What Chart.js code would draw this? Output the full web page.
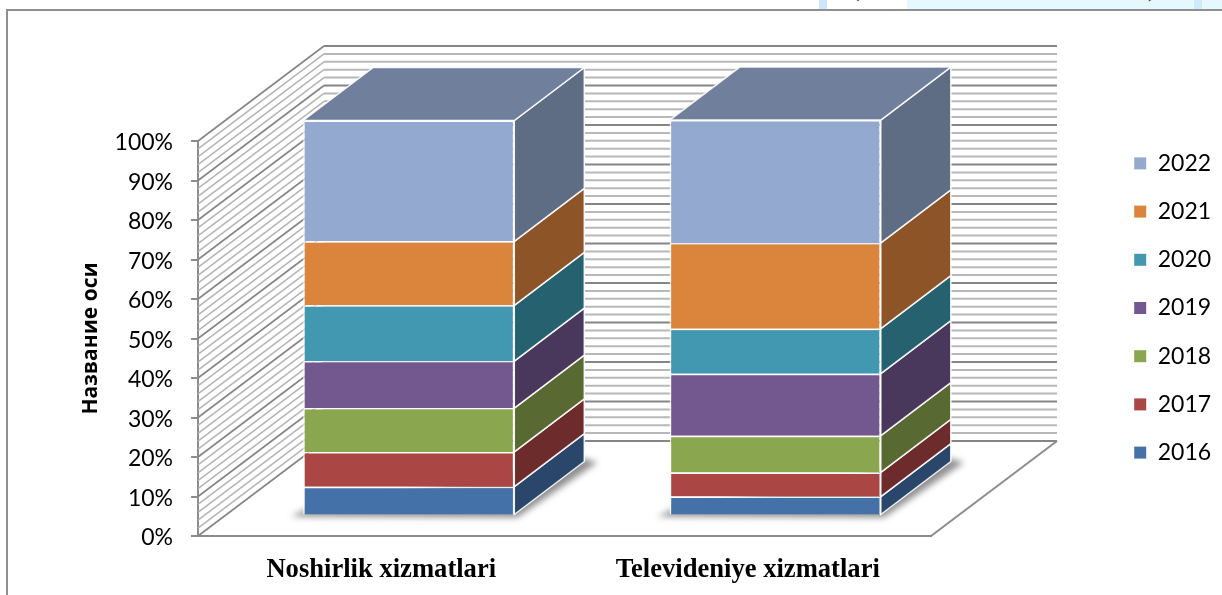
<!DOCTYPE html>
<html>
<head>
<meta charset="utf-8">
<script src="https://cdn.jsdelivr.net/npm/chart.js@4"></script>
<style>
  html, body { margin: 0; padding: 0; background: #fff; overflow: hidden; }
  #page { position: relative; width: 1222px; height: 595px; overflow: hidden; }
  #frame { position: absolute; left: 6px; top: 9px; right: -10px; bottom: -10px; border: 2px solid #8f8f8f; }
  .strip { position: absolute; top: 0; height: 9px; }
  .cut { position: absolute; top: -21px; font: 20px "Liberation Serif"; color: #222; }
  canvas { position: absolute; left: 0; top: 0; }
</style>
</head>
<body>
<div id="page">
  <div class="strip" style="left:819px;width:8px;background:#cde6fa"></div>
  <div class="strip" style="left:907px;width:315px;background:#e5f8fe"></div>
  <div class="strip" style="left:1194px;width:8px;background:#cfeafb"></div>
  <span class="cut" style="left:853px">(</span>
  <span class="cut" style="left:1148px">)</span>
  <div id="frame"></div>
  <canvas id="chart" width="1222" height="595"></canvas>
</div>
<script>
const categories = ["Noshirlik xizmatlari", "Televideniye xizmatlari"];
const years = ["2016", "2017", "2018", "2019", "2020", "2021", "2022"];

// share of each year (bottom to top)
const values2016 = [7.3, 4.8];
const values2017 = [8.8, 6.1];
const values2018 = [11.1, 9.3];
const values2019 = [11.9, 15.7];
const values2020 = [14.1, 11.4];
const values2021 = [16.2, 21.7];
const values2022 = [30.6, 31.1];
const seriesValues = [values2016, values2017, values2018, values2019, values2020, values2021, values2022];

const frontColors = ["#4472a8", "#aa4644", "#8aa64e", "#73578f", "#4198b0", "#db843c", "#94a9d0"];
const sideColors = ["#2a476b", "#6d2c2b", "#586a31", "#49385c", "#26616f", "#8c5427", "#5e6c84"];
const topColor = "#707f9b";

// 3d look: how far the bars sit from the front edge and how deep they are
const floorShift = { x: 27.5, y: -20.5 };
const barDepth = { x: 70, y: -53 };
const wallDepth = { x: 126, y: -95 };
const minorStep = 2;

const wallPlugin = {
  id: "wall",
  beforeDatasetsDraw(chart) {
    const { ctx, chartArea, scales } = chart;
    const y = scales.y;

    function line(x1, y1, x2, y2, color, width) {
      ctx.strokeStyle = color;
      ctx.lineWidth = width;
      ctx.beginPath();
      ctx.moveTo(x1, y1);
      ctx.lineTo(x2, y2);
      ctx.stroke();
    }

    ctx.save();
    // side wall and back wall lines, minor ones first
    for (let v = 0; v <= 100; v += minorStep) {
      if (v % 10 === 0) continue;
      const py = y.getPixelForValue(v);
      line(chartArea.left, py, chartArea.left + wallDepth.x, py + wallDepth.y, "#b4b4b4", 1.5);
      line(chartArea.left + wallDepth.x, py + wallDepth.y, chartArea.right + wallDepth.x, py + wallDepth.y, "#b8b8b8", 2);
    }
    for (let v = 0; v <= 100; v += 10) {
      const py = y.getPixelForValue(v);
      line(chartArea.left, py, chartArea.left + wallDepth.x, py + wallDepth.y, "#858585", 1.6);
      line(chartArea.left + wallDepth.x, py + wallDepth.y, chartArea.right + wallDepth.x, py + wallDepth.y, "#858585", 2);
    }
    // floor right edge
    line(chartArea.right, chartArea.bottom, chartArea.right + wallDepth.x, chartArea.bottom + wallDepth.y, "#8c8c8c", 2);
    ctx.restore();

    // bars get moved back onto the floor, restored in afterDatasetsDraw
    ctx.save();
    ctx.translate(floorShift.x, floorShift.y);

    // soft shadow under each stack
    const first = chart.getDatasetMeta(0).data;
    first.forEach((bar) => {
      const x0 = bar.x - bar.width / 2;
      const x1 = bar.x + bar.width / 2;
      ctx.save();
      ctx.filter = "blur(3px)";
      ctx.fillStyle = "rgba(70,70,70,0.6)";
      ctx.beginPath();
      ctx.moveTo(x0 - 12, bar.base + 2);
      ctx.lineTo(x1 + 3, bar.base + 3);
      ctx.lineTo(x1 + barDepth.x + 13, bar.base + barDepth.y + 1);
      ctx.lineTo(x1 + barDepth.x, bar.base + barDepth.y - 3);
      ctx.lineTo(x0, bar.base - 4);
      ctx.closePath();
      ctx.fill();
      ctx.restore();
    });

    // side faces, then the lid
    seriesValues.forEach((vals, i) => {
      chart.getDatasetMeta(i).data.forEach((bar) => {
        const xr = bar.x + bar.width / 2;
        ctx.fillStyle = sideColors[i];
        ctx.strokeStyle = "rgba(255,255,255,0.9)";
        ctx.lineWidth = 1.5;
        ctx.beginPath();
        ctx.moveTo(xr, bar.base);
        ctx.lineTo(xr + barDepth.x, bar.base + barDepth.y);
        ctx.lineTo(xr + barDepth.x, bar.y + barDepth.y);
        ctx.lineTo(xr, bar.y);
        ctx.closePath();
        ctx.fill();
        ctx.stroke();
      });
    });
    chart.getDatasetMeta(seriesValues.length - 1).data.forEach((bar) => {
      const xl = bar.x - bar.width / 2;
      const xr = bar.x + bar.width / 2;
      ctx.fillStyle = topColor;
      ctx.strokeStyle = "rgba(255,255,255,0.9)";
      ctx.lineWidth = 1.5;
      ctx.beginPath();
      ctx.moveTo(xl, bar.y);
      ctx.lineTo(xl + barDepth.x, bar.y + barDepth.y);
      ctx.lineTo(xr + barDepth.x, bar.y + barDepth.y);
      ctx.lineTo(xr, bar.y);
      ctx.closePath();
      ctx.fill();
      ctx.stroke();
    });
  },
  afterDatasetsDraw(chart) {
    chart.ctx.restore();
  },
  afterLayout(chart) {
    // the legend sits far from the plot, push it over and up
    const legend = chart.legend;
    const w = legend.right - legend.left;
    const h = legend.bottom - legend.top;
    legend.left = 1109;
    legend.right = legend.left + w;
    legend.top -= 60;
    legend.bottom = legend.top + h;
  },
};

const chart = new Chart(document.getElementById("chart"), {
  type: "bar",
  data: {
    labels: categories,
    datasets: years.map((year, i) => ({
      label: year,
      data: seriesValues[i],
      backgroundColor: frontColors[i],
      borderColor: "rgba(255,255,255,0.85)",
      borderWidth: 1.5,
      categoryPercentage: 1,
      barPercentage: 0.576,
      clip: false,
    })),
  },
  options: {
    responsive: false,
    animation: false,
    layout: { padding: { left: 78, top: 141, right: 163, bottom: 0 } },
    plugins: {
      tooltip: { enabled: false },
      legend: {
        position: "right",
        reverse: true,
        labels: {
          boxWidth: 12,
          boxHeight: 12,
          padding: 25.2,
          color: "#000",
          font: { family: "Lato", size: 23 },
          // no white edge round the swatches
          generateLabels: (c) => Chart.defaults.plugins.legend.labels.generateLabels(c).map((l) => ({ ...l, lineWidth: 0 })),
        },
      },
    },
    scales: {
      x: {
        stacked: true,
        afterFit: (s) => { s.height = 59; },
        grid: { display: false },
        border: { color: "#8c8c8c", width: 2 },
        ticks: {
          padding: 10,
          color: "#000",
          maxRotation: 0,
          font: { family: "Liberation Serif", size: 26.6, weight: "bold" },
        },
      },
      y: {
        stacked: true,
        min: 0,
        max: 100,
        afterFit: (s) => { s.width = 120; },
        grid: { drawOnChartArea: false, color: "#8c8c8c", lineWidth: 2, tickLength: 7 },
        border: { color: "#8c8c8c", width: 2 },
        title: {
          display: true,
          text: "Название оси",
          color: "#000",
          padding: 0,
          font: { family: "Open Sans", size: 21, weight: "bold" },
        },
        ticks: {
          stepSize: 10,
          padding: 18,
          labelOffset: 2,
          color: "#000",
          font: { family: "Lato", size: 23 },
          callback: (v) => v + "%",
        },
      },
    },
  },
  plugins: [wallPlugin],
});

// legend width depends on the font, settle the plot's right edge at 931
chart.options.layout.padding.right -= 931 - chart.chartArea.right;
chart.update();
</script>
</body>
</html>
